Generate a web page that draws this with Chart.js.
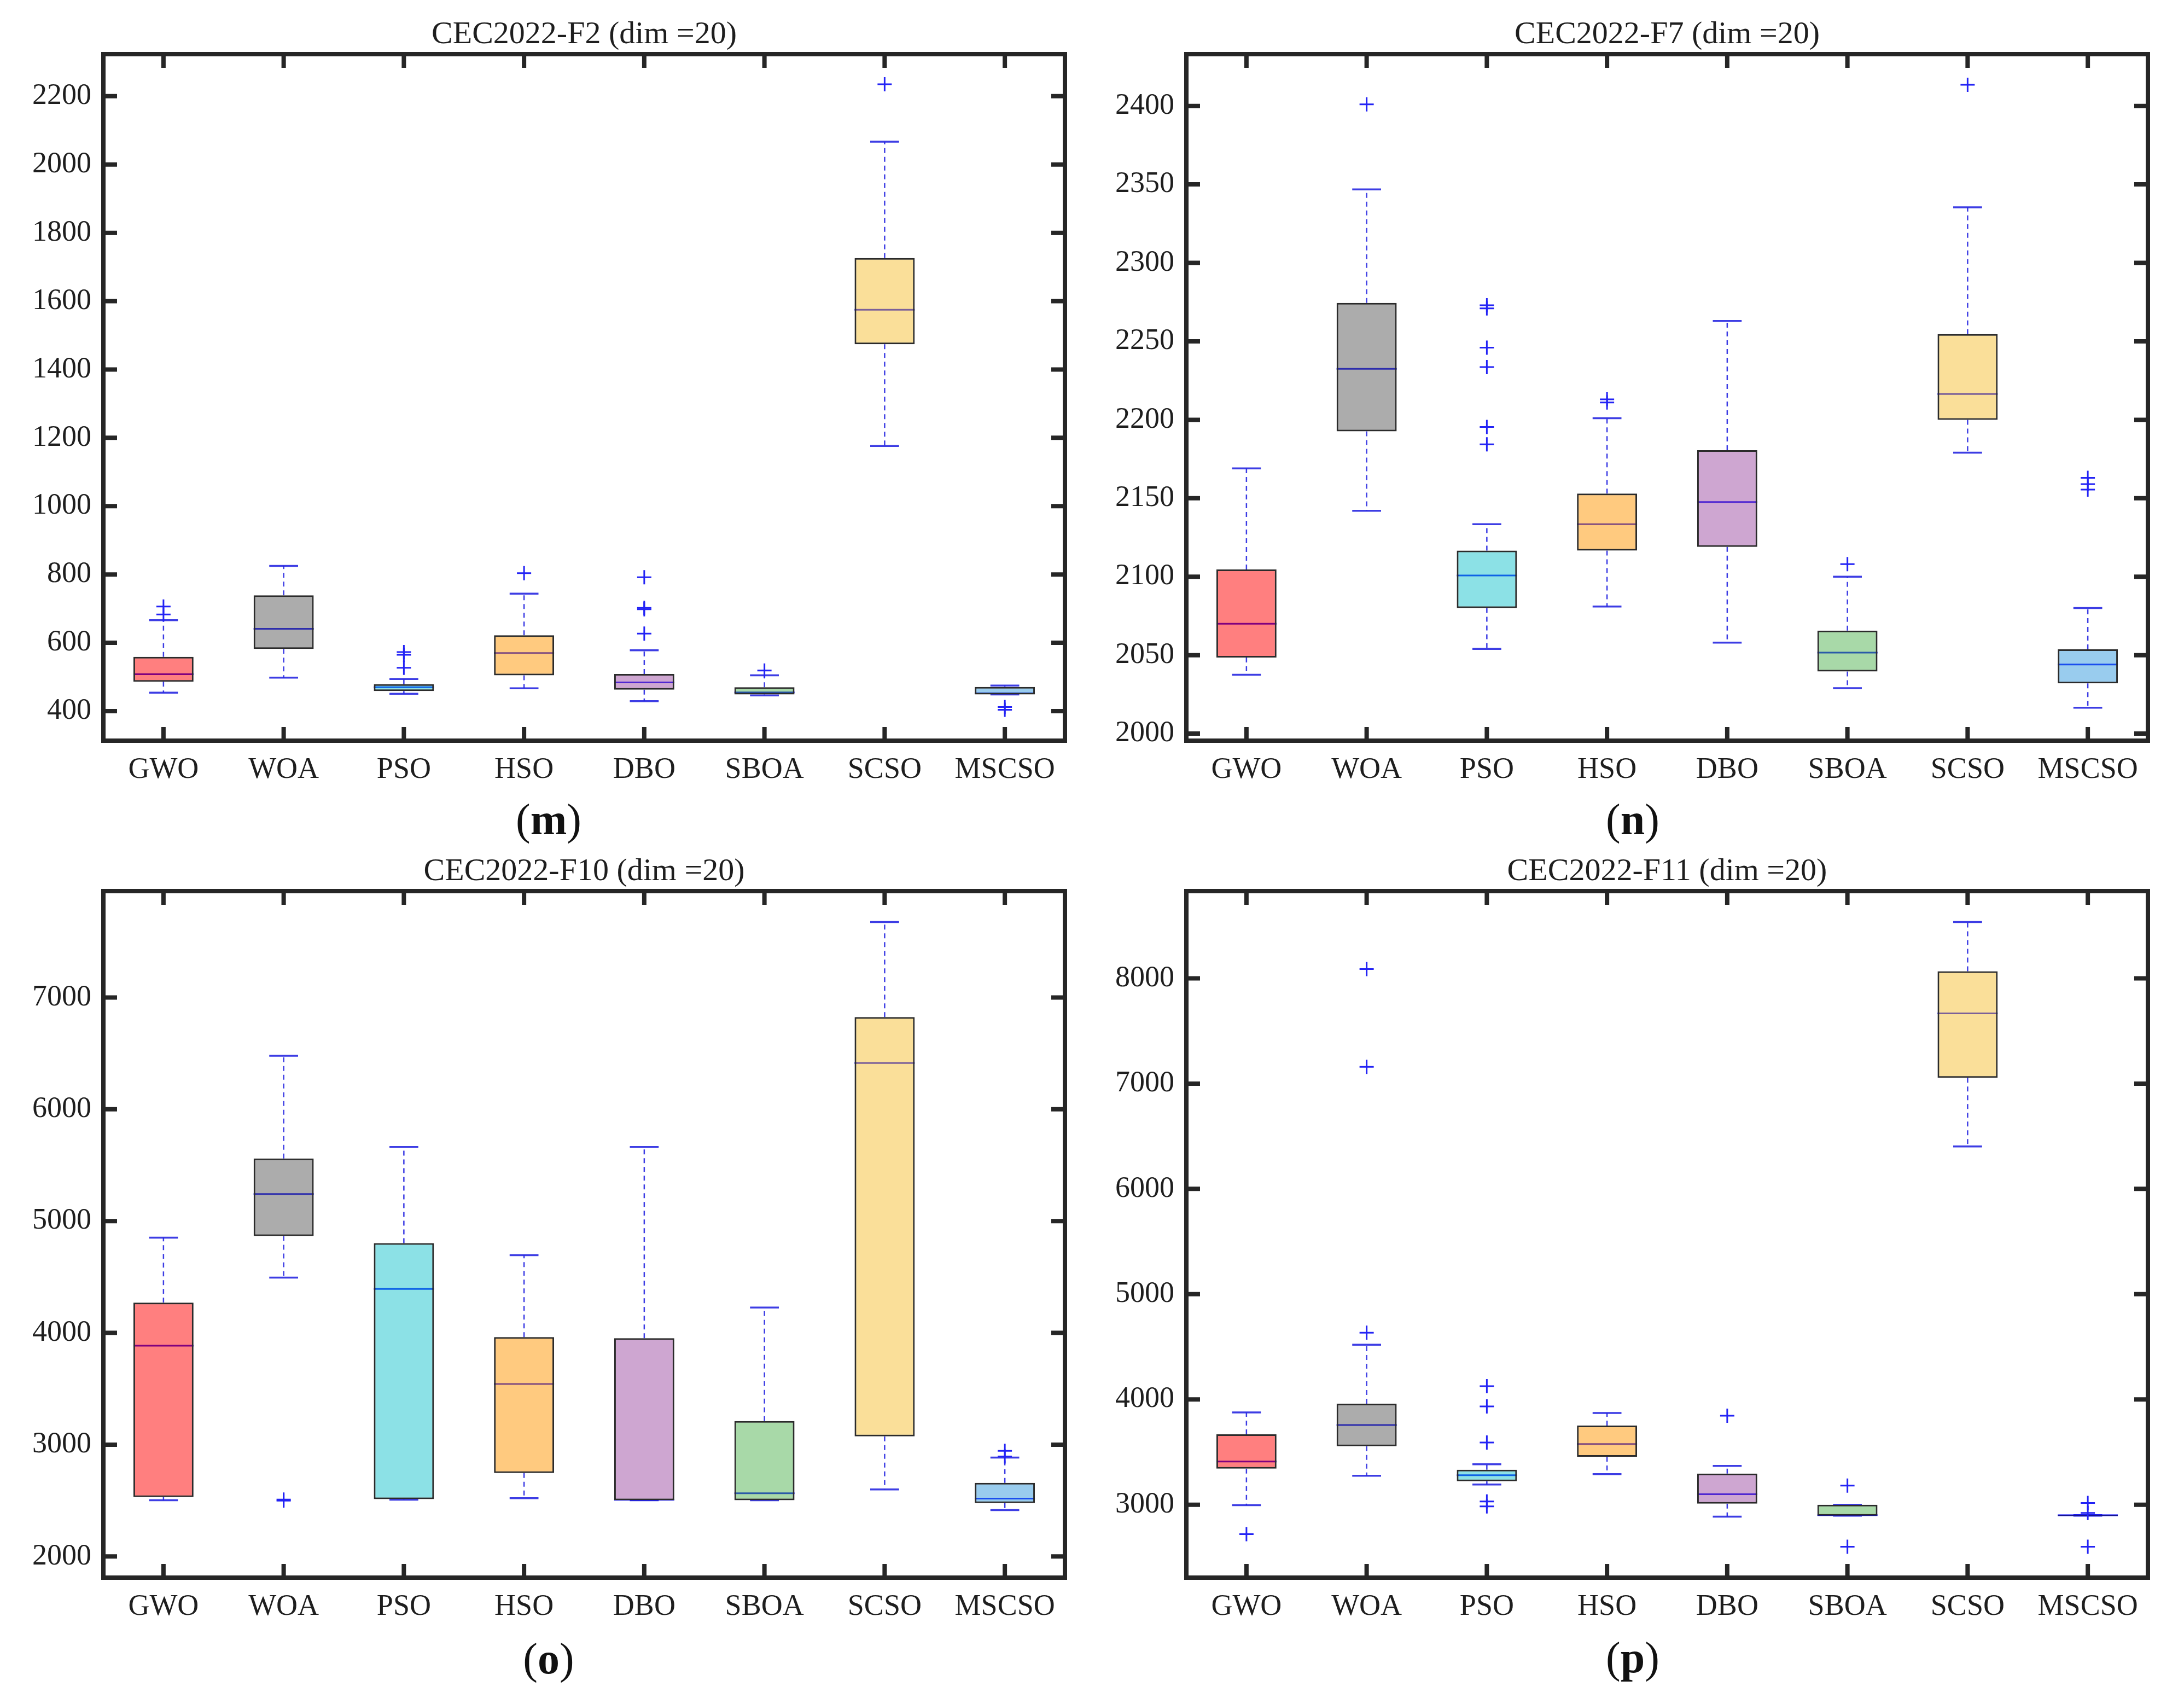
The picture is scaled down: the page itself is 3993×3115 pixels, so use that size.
<!DOCTYPE html>
<html>
<head>
<meta charset="utf-8">
<title>CEC2022 box plots</title>
<script src="https://cdn.jsdelivr.net/npm/chart.js@4.4.1/dist/chart.umd.min.js"></script>
<style>
  body { margin: 0; background: #fff; width: 3993px; height: 3115px; position: relative; overflow: hidden; }
  canvas { position: absolute; }
  .cap { position: absolute; width: 400px; text-align: center; font-family: "Liberation Serif", serif; font-size: 80px; line-height: 80px; color: #111; }
</style>
</head>
<body>
<canvas id="m" width="1980" height="1440" style="left:0;top:0"></canvas>
<canvas id="n" width="1980" height="1440" style="left:1980px;top:0"></canvas>
<canvas id="o" width="1980" height="1440" style="left:0;top:1530px"></canvas>
<canvas id="p" width="1980" height="1440" style="left:1980px;top:1530px"></canvas>
<div class="cap" style="left:803px;top:1458px">(<b>m</b>)</div>
<div class="cap" style="left:2785px;top:1458px">(<b>n</b>)</div>
<div class="cap" style="left:803px;top:2992px">(<b>o</b>)</div>
<div class="cap" style="left:2785px;top:2990px">(<b>p</b>)</div>
<script>
const algorithms = ["GWO", "WOA", "PSO", "HSO", "DBO", "SBOA", "SCSO", "MSCSO"];

// CEC2022-F2
const f2Low    = [454, 498, 451, 467, 429, 446, 1176, 449];
const f2Q1     = [486, 582, 459, 505, 463, 449, 1474, 449];
const f2Median = [508, 641, 470, 570, 484, 455, 1575, 452];
const f2Q3     = [559, 739, 479, 622, 509, 470, 1726, 471];
const f2High   = [666, 825, 494, 744, 578, 505, 2067, 475];
const f2Outliers = [[683, 706], [], [527, 565, 573], [804], [627, 698, 702, 792], [519], [2235], [404, 412]];
const f2Ticks = [400, 600, 800, 1000, 1200, 1400, 1600, 1800, 2000, 2200];

// CEC2022-F7
const f7Low    = [2037.5, 2142, 2054, 2081, 2058, 2029, 2179, 2016.5];
const f7Q1     = [2048.5, 2192.6, 2080, 2116.6, 2119, 2039.6, 2200, 2032];
const f7Median = [2070, 2232.5, 2100.8, 2133.5, 2147.6, 2051.6, 2216.4, 2044];
const f7Q3     = [2104.6, 2274.5, 2116.6, 2153, 2180.6, 2065.7, 2254.6, 2053.7];
const f7High   = [2169, 2346.8, 2133.5, 2201, 2263, 2100, 2335.4, 2080];
const f7Outliers = [[], [2401], [2184.4, 2195.4, 2233.6, 2246, 2271, 2273], [2211, 2213], [], [2108], [2413.5], [2155.5, 2159, 2163]];
const f7Ticks = [2000, 2050, 2100, 2150, 2200, 2250, 2300, 2350, 2400];

// CEC2022-F10
const f10Low    = [2503, 4495, 2508, 2522, 2503, 2503, 2600, 2415];
const f10Q1     = [2532, 4866, 2513, 2747, 2503, 2503, 3074, 2478];
const f10Median = [3885, 5242, 4393, 3543, 2508, 2566, 6414, 2518];
const f10Q3     = [4271, 5560, 4803, 3963, 3953, 3211, 6824, 2659];
const f10High   = [4852, 6478, 5662, 4695, 5662, 4227, 7674, 2885];
const f10Outliers = [[], [2500, 2510], [], [], [], [], [], [2895, 2945]];
const f10Ticks = [2000, 3000, 4000, 5000, 6000, 7000];

// CEC2022-F11
const f11Low    = [2995, 3275, 3192, 3290, 2886, 2896, 6403, 2896];
const f11Q1     = [3342, 3555, 3223, 3456, 3010, 2896, 7056, 2896];
const f11Median = [3410, 3757, 3280, 3576, 3099, 2901, 7668, 2899];
const f11Q3     = [3669, 3960, 3332, 3752, 3296, 3000, 8068, 2901];
const f11High   = [3877, 4520, 3384, 3871, 3368, 3000, 8535, 2901];
const f11Outliers = [[2720], [4634, 7160, 8088], [2984, 3031, 3591, 3934, 4126], [], [3845], [2600, 3182], [], [2600, 2922, 3016]];
const f11Ticks = [3000, 4000, 5000, 6000, 7000, 8000];

const boxFill = [
  "rgba(255,0,0,0.5)", "rgba(90,90,90,0.5)", "rgba(25,195,205,0.5)", "rgba(255,150,0,0.5)",
  "rgba(158,78,163,0.5)", "rgba(82,180,82,0.5)", "rgba(245,191,52,0.5)", "rgba(52,154,222,0.5)"
];

const FONT = "Liberation Serif";
const INK = "#1e1e1e";

// whiskers, caps and medians; drawn before the boxes so the
// translucent fill tints the median line like the original
function whiskerPlugin(low, median, high, q1, q3) {
  return {
    id: "whiskers",
    beforeDatasetsDraw(chart) {
      const ctx = chart.ctx;
      const ys = chart.scales.y;
      const meta = chart.getDatasetMeta(1);
      ctx.save();
      meta.data.forEach((bar, i) => {
        const { x, width } = bar.getProps(["x", "width"], true);
        const cap = width * 0.24;
        ctx.strokeStyle = "rgba(40,40,225,0.9)";
        ctx.lineWidth = 2.5;
        ctx.setLineDash([9, 7]);
        ctx.beginPath();
        ctx.moveTo(x, ys.getPixelForValue(q3[i]));
        ctx.lineTo(x, ys.getPixelForValue(high[i]));
        ctx.moveTo(x, ys.getPixelForValue(q1[i]));
        ctx.lineTo(x, ys.getPixelForValue(low[i]));
        ctx.stroke();
        ctx.setLineDash([]);
        ctx.lineWidth = 3.5;
        ctx.beginPath();
        ctx.moveTo(x - cap, ys.getPixelForValue(high[i]));
        ctx.lineTo(x + cap, ys.getPixelForValue(high[i]));
        ctx.moveTo(x - cap, ys.getPixelForValue(low[i]));
        ctx.lineTo(x + cap, ys.getPixelForValue(low[i]));
        ctx.stroke();
        ctx.strokeStyle = "rgb(0,0,255)";
        ctx.lineWidth = 3;
        ctx.beginPath();
        ctx.moveTo(x - width / 2, ys.getPixelForValue(median[i]));
        ctx.lineTo(x + width / 2, ys.getPixelForValue(median[i]));
        ctx.stroke();
      });
      ctx.restore();
    }
  };
}

// matlab style box with inward ticks on all four sides
const framePlugin = {
  id: "frame",
  afterDraw(chart) {
    const ctx = chart.ctx;
    const { left, right, top, bottom } = chart.chartArea;
    const xs = chart.scales.x, ys = chart.scales.y;
    ctx.save();
    ctx.strokeStyle = "#262626";
    ctx.lineWidth = 8;
    ctx.strokeRect(left, top, right - left, bottom - top);
    ctx.beginPath();
    ys.ticks.forEach(t => {
      const py = ys.getPixelForValue(t.value);
      ctx.moveTo(left, py); ctx.lineTo(left + 25, py);
      ctx.moveTo(right, py); ctx.lineTo(right - 25, py);
    });
    xs.ticks.forEach((t, i) => {
      const px = xs.getPixelForTick(i);
      ctx.moveTo(px, bottom); ctx.lineTo(px, bottom - 25);
      ctx.moveTo(px, top); ctx.lineTo(px, top + 25);
    });
    ctx.stroke();
    ctx.restore();
  }
};

function makeChart(id, title, low, q1, median, q3, high, outliers, tickValues, yMin, yMax) {
  const points = [];
  outliers.forEach((list, i) => list.forEach(v => points.push({ x: algorithms[i], y: v })));
  return new Chart(document.getElementById(id), {
    type: "bar",
    data: {
      labels: algorithms,
      datasets: [
        {
          type: "line",
          data: points,
          showLine: false,
          pointStyle: "cross",
          pointRadius: 13,
          pointBorderWidth: 3,
          borderColor: "rgb(35,35,245)",
          backgroundColor: "rgba(0,0,0,0)"
        },
        {
          type: "bar",
          data: q1.map((v, i) => [v, q3[i]]),
          backgroundColor: boxFill,
          borderColor: "#2b2b2b",
          borderWidth: 3,
          borderSkipped: false,
          categoryPercentage: 1,
          barPercentage: 0.5
        }
      ]
    },
    options: {
      responsive: false,
      animation: false,
      devicePixelRatio: 1,
      layout: { padding: { top: 29.4, left: 0, right: 33, bottom: 0 } },
      plugins: {
        legend: { display: false },
        tooltip: { enabled: false },
        title: {
          display: true,
          text: title,
          fullSize: false,
          color: INK,
          padding: 0,
          font: { family: FONT, size: 58, weight: "normal" }
        }
      },
      scales: {
        x: {
          grid: { display: false, drawTicks: false },
          border: { display: false },
          ticks: { color: INK, padding: 21, maxRotation: 0, autoSkip: false, font: { family: FONT, size: 54 } },
          afterFit: s => { s.height = 86; }
        },
        y: {
          min: yMin,
          max: yMax,
          grid: { display: false, drawTicks: false },
          border: { display: false },
          ticks: { color: INK, padding: 22, font: { family: FONT, size: 54 }, callback: v => String(v) },
          afterBuildTicks: s => { s.ticks = tickValues.map(v => ({ value: v })); },
          afterFit: s => { s.width = 189; }
        }
      }
    },
    plugins: [whiskerPlugin(low, median, high, q1, q3), framePlugin]
  });
}

makeChart("m", "CEC2022-F2 (dim =20)", f2Low, f2Q1, f2Median, f2Q3, f2High, f2Outliers, f2Ticks, 313.5, 2323);
makeChart("n", "CEC2022-F7 (dim =20)", f7Low, f7Q1, f7Median, f7Q3, f7High, f7Outliers, f7Ticks, 1995.5, 2433);
makeChart("o", "CEC2022-F10 (dim =20)", f10Low, f10Q1, f10Median, f10Q3, f10High, f10Outliers, f10Ticks, 1811, 7951);
makeChart("p", "CEC2022-F11 (dim =20)", f11Low, f11Q1, f11Median, f11Q3, f11High, f11Outliers, f11Ticks, 2307, 8829);
</script>
</body>
</html>
